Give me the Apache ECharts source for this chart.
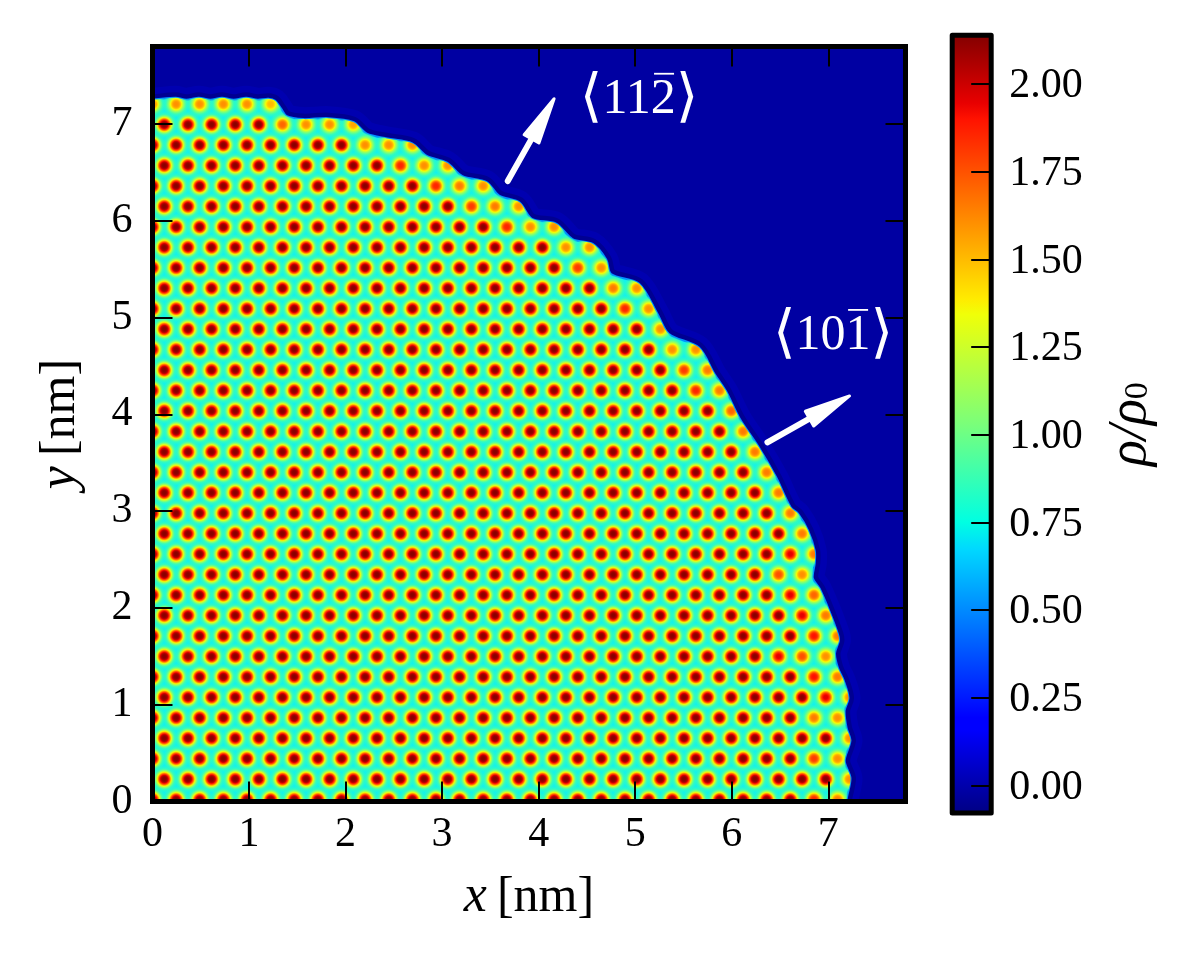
<!DOCTYPE html>
<html><head><meta charset="utf-8">
<style>html,body{margin:0;padding:0;background:#fff}#c{width:1197px;height:957px}</style>
<script src="https://cdn.jsdelivr.net/npm/echarts@6/dist/echarts.min.js"></script>
</head><body><div id="c"></div>
<script>
const xTicks=[0,1,2,3,4,5,6,7];
const yTicks=[0,1,2,3,4,5,6,7];
const barTicks=[0,0.25,0.5,0.75,1,1.25,1.5,1.75,2];
const barRange=[-0.079,2.139];
const jetStops=[[0,'#000080'],[0.11,'#0000ff'],[0.125,'#0000ff'],[0.34,'#00d8ff'],[0.375,'#00ffe2'],[0.5,'#7aff7a'],[0.64,'#f0ff08'],[0.66,'#ffeb00'],[0.89,'#ff1200'],[0.91,'#e80000'],[1,'#800000']];
const rowY=[0.02,0.231,0.443,0.654,0.865,1.077,1.288,1.499,1.71,1.922,2.133,2.344,2.556,2.767,2.978,3.19,3.401,3.612,3.823,4.035,4.246,4.457,4.669,4.88,5.091,5.303,5.514,5.725,5.936,6.148,6.359,6.57,6.782,6.993,7.204];
const evenSites=[0,.245,.489,.734,.979,1.224,1.468,1.713,1.958,2.202,2.447,2.692,2.936,3.181,3.426,3.671,3.915,4.16,4.405,4.649,4.894,5.139,5.383,5.628,5.873,6.118,6.362,6.607,6.852,7.096];
const oddSites=[.122,.367,.612,.857,1.101,1.346,1.591,1.835,2.08,2.325,2.569,2.814,3.059,3.304,3.548,3.793,4.038,4.282,4.527,4.772,5.016,5.261,5.506,5.75,5.995,6.24,6.485,6.729,6.974,7.219];
const rowCounts=[30,30,30,30,30,30,30,29,30,29,29,28,29,28,28,27,27,26,26,25,25,24,24,22,22,21,20,19,18,16,15,13,12,9,6];
const bulkRho=2.12;
const edgeRho=[[1.65,1.85],[1.6],[1.6,1.8],[1.6],[1.6,1.65],[1.6,1.95],[1.65,1.9],[1.6,1.75,1.95],[1.65,1.9],[1.65,1.95],[1.7,1.95],[1.6,1.75],[1.65,1.95],[1.65],[1.65],[1.65],[1.65],[1.65],[1.65],[1.7],[1.65,1.85],[1.65,1.8],[1.6,1.6],[1.6],[1.6,1.85],[1.6,1.65],[1.6,1.8],[1.6,1.6],[1.6,1.6,1.85],[1.6,1.65,1.8],[1.6,1.65,1.85],[1.6,1.6,1.85],[1.6,1.6,1.6],[1.55,1.6,1.6,1.7],[1.5,1.6,1.6,1.6,1.6,1.6]];
const crystalEdge=[[-0.1,7.25],[0,7.25],[.24,7.27],[.35,7.25],[.48,7.27],[.6,7.25],[.72,7.27],[.84,7.25],[.97,7.27],[1.09,7.25],[1.2,7.26],[1.27,7.24],[1.33,7.16],[1.39,7.08],[1.56,7.05],[1.82,7.06],[2.08,7.02],[2.22,6.9],[2.43,6.85],[2.69,6.8],[2.84,6.67],[3.05,6.6],[3.21,6.46],[3.46,6.4],[3.59,6.26],[3.8,6.19],[3.93,6.02],[4.18,5.97],[4.35,5.81],[4.56,5.76],[4.7,5.6],[4.75,5.45],[5.04,5.35],[5.23,5.04],[5.35,4.83],[5.66,4.69],[5.82,4.42],[5.94,4.24],[6.08,3.96],[6.28,3.66],[6.46,3.35],[6.61,3.04],[6.69,2.97],[6.79,2.8],[6.86,2.59],[6.86,2.46],[6.84,2.31],[6.91,2.2],[7.01,1.97],[7.1,1.73],[7.11,1.66],[7.07,1.53],[7.1,1.38],[7.16,1.25],[7.21,1.07],[7.17,.94],[7.19,.76],[7.23,.63],[7.17,.42],[7.23,.24],[7.19,.02],[7.19,-0.1],[-0.1,-0.1]];
const arrowTails=[[3.68,6.41],[6.37,3.71]];
const arrowTips=[[4.16,7.26],[7.22,4.19]];
const dirLabels=[{digits:'112',at:[5.04,7.25]},{digits:'101',at:[7.05,4.81]}];

const atoms=[];
rowY.forEach((y,k)=>{
  const sites=(k%2?oddSites:evenSites).slice(0,rowCounts[k]);
  const edge=edgeRho[k];
  sites.forEach((x,i)=>{
    const fromEnd=sites.length-1-i;
    atoms.push([x,y,fromEnd<edge.length?edge[fromEnd]:bulkRho]);
  });
});
function hex(c){return [parseInt(c.slice(1,3),16),parseInt(c.slice(3,5),16),parseInt(c.slice(5,7),16)];}
function jet(v){
  const f=Math.max(0,Math.min(1,(v-barRange[0])/(barRange[1]-barRange[0])));
  for(let i=1;i<jetStops.length;i++){
    if(f<=jetStops[i][0]){
      const a=jetStops[i-1],b=jetStops[i],t=(f-a[0])/(b[0]-a[0]);
      const p=hex(a[1]),q=hex(b[1]);
      return p.map((u,j)=>Math.round(u+(q[j]-u)*t));
    }
  }
  return hex(jetStops[jetStops.length-1][1]);
}
const atomR=13.5,haloRho=0.88;
const gradCache={};
function atomFill(rho){
  if(gradCache[rho])return gradCache[rho];
  const stops=[];
  for(let i=0;i<=24;i++){
    const t=i/24,r=t*atomR;
    const v=haloRho+(rho-haloRho)*Math.exp(-Math.pow(r/7.1,3.4));
    const c=jet(v);
    const al=r<9?1:Math.max(0,(atomR-r)/(atomR-9));
    stops.push({offset:t,color:`rgba(${c[0]},${c[1]},${c[2]},${al.toFixed(3)})`});
  }
  return gradCache[rho]=new echarts.graphic.RadialGradient(0.5,0.5,0.5,stops);
}
const FONT='"Liberation Serif","DejaVu Serif",serif';
const frame={color:'#000',width:5,cap:'square'};
const tick=()=>({show:true,inside:true,length:20,lineStyle:{color:'#000',width:2},customValues:xTicks});
const nameRich={i:{fontFamily:FONT,fontStyle:'italic',fontSize:52,color:'#000'},r:{fontFamily:FONT,fontSize:50,color:'#000',padding:[0,0,0,10]}};
const chart=echarts.init(document.getElementById('c'),null,{renderer:'canvas'});
chart.setOption({
  animation:false,backgroundColor:'#fff',
  grid:[
    {left:152.5,top:46.5,width:753,height:755,show:true,backgroundColor:'#0000a2',borderWidth:0},
    {left:952.2,top:35.2,width:39,height:777.8,show:false}
  ],
  xAxis:[
    {gridIndex:0,type:'value',min:0,max:7.8,position:'bottom',z:5,splitLine:{show:false},axisLine:{show:true,onZero:false,lineStyle:frame},axisTick:tick(),
     axisLabel:{customValues:xTicks,fontFamily:FONT,fontSize:42,color:'#000',margin:12,formatter:v=>String(v)},
     name:'{i|x}{r|[nm]}',nameLocation:'middle',nameGap:70,nameTextStyle:{rich:nameRich}},
    {gridIndex:0,type:'value',min:0,max:7.8,position:'top',z:5,splitLine:{show:false},axisLine:{show:true,onZero:false,lineStyle:frame},axisTick:tick(),axisLabel:{show:false}},
    {gridIndex:1,type:'value',min:0,max:1,show:false}
  ],
  yAxis:[
    {gridIndex:0,type:'value',min:0,max:7.8,position:'left',z:5,splitLine:{show:false},axisLine:{show:true,onZero:false,lineStyle:frame},axisTick:tick(),
     axisLabel:{customValues:yTicks,fontFamily:FONT,fontSize:42,color:'#000',margin:20,formatter:v=>String(v)},
     name:'{i|y}{r|[nm]}',nameLocation:'middle',nameGap:66,nameTextStyle:{rich:nameRich}},
    {gridIndex:0,type:'value',min:0,max:7.8,position:'right',z:5,splitLine:{show:false},axisLine:{show:true,onZero:false,lineStyle:frame},axisTick:tick(),axisLabel:{show:false}},
    {gridIndex:1,type:'value',min:barRange[0],max:barRange[1],position:'right',z:5,splitLine:{show:false},axisLine:{show:false,onZero:false},
     axisTick:{show:true,inside:true,length:20,lineStyle:{color:'#000',width:2},customValues:barTicks},
     axisLabel:{customValues:barTicks,fontFamily:FONT,fontSize:42,color:'#000',margin:18,formatter:v=>'{v|'+v.toFixed(2)+'}',rich:{v:{fontFamily:FONT,fontSize:42,color:'#000',padding:[5,0,0,0]}}},
     name:'{i|\u03C1/\u03C1}{s|0}',nameLocation:'middle',nameGap:113,nameRotate:90,nameTextStyle:{rich:{i:{fontFamily:FONT,fontStyle:'italic',fontSize:54,color:'#000'},s:{fontFamily:FONT,fontSize:34,color:'#000',padding:[14,0,0,0]}}}}
  ],
  series:[
    {type:'custom',xAxisIndex:0,yAxisIndex:0,coordinateSystem:'cartesian2d',clip:true,z:2,silent:true,data:[0],
     renderItem(p,api){
       const pts=crystalEdge.map(c=>api.coord(c));
       return {type:'group',children:[
         {type:'polygon',shape:{points:pts,smooth:0.3},style:{fill:'none',stroke:'#0000b0',lineWidth:24,lineJoin:'round'}},
         {type:'polygon',shape:{points:pts,smooth:0.3},style:{fill:'none',stroke:'#000092',lineWidth:11,lineJoin:'round'}},
         {type:'polygon',shape:{points:pts,smooth:0.3},style:{fill:'#14f2ec',stroke:'#0090ff',lineWidth:2,lineJoin:'round'}}
       ]};
     }},
    {type:'custom',xAxisIndex:0,yAxisIndex:0,clip:true,z:3,silent:true,data:[0],
     renderItem(p,api){
       const pts=crystalEdge.map(c=>api.coord(c));
       return {type:'group',clipPath:{type:'polygon',shape:{points:pts,smooth:0.3}},
         children:atoms.map(a=>{
           const c=api.coord(a);
           return {type:'circle',shape:{cx:c[0],cy:c[1],r:atomR},style:{fill:atomFill(a[2])}};
         })};
     }},
    {type:'custom',xAxisIndex:0,yAxisIndex:0,clip:false,z:7,silent:true,data:arrowTails.map((t,i)=>i),
     renderItem(p,api){
       const i=api.value(0),a=api.coord(arrowTails[i]),b=api.coord(arrowTips[i]);
       const dx=b[0]-a[0],dy=b[1]-a[1],len=Math.hypot(dx,dy),ux=dx/len,uy=dy/len;
       const mx=b[0]-ux*46,my=b[1]-uy*46;
       return {type:'group',children:[
         {type:'line',shape:{x1:a[0],y1:a[1],x2:mx,y2:my},style:{stroke:'#fff',lineWidth:6,lineCap:'round'}},
         {type:'polygon',shape:{points:[b,[mx-uy*8.5,my+ux*8.5],[mx+uy*8.5,my-ux*8.5]]},style:{fill:'#fff',stroke:'#fff',lineWidth:3,lineJoin:'round'}}
       ]};
     }},
    {type:'custom',xAxisIndex:0,yAxisIndex:0,clip:false,z:7,silent:true,data:dirLabels.map((t,i)=>i),
     renderItem(p,api){
       const d=dirLabels[api.value(0)],c=api.coord(d.at);
       return {type:'group',children:[
         {type:'text',x:c[0],y:c[1],style:{text:'{b|\u27E8}{d|'+d.digits+'}{b|\u27E9}',fill:'#fff',textAlign:'center',textVerticalAlign:'middle',
           rich:{b:{fontFamily:'"DejaVu Serif"',fontSize:58,fill:'#fff',color:'#fff'},d:{fontFamily:FONT,fontSize:50,fill:'#fff',color:'#fff'}}}},
         {type:'line',shape:{x1:c[0]+15,y1:c[1]-26,x2:c[0]+35,y2:c[1]-26},style:{stroke:'#fff',lineWidth:1.8}}
       ]};
     }},
    {type:'custom',xAxisIndex:2,yAxisIndex:2,clip:false,z:2,silent:true,data:[0],
     renderItem(p,api){
       const a=api.coord([0,barRange[1]]),b=api.coord([1,barRange[0]]);
       return {type:'rect',shape:{x:a[0],y:a[1],width:b[0]-a[0],height:b[1]-a[1]},
         style:{fill:new echarts.graphic.LinearGradient(0,1,0,0,jetStops.map(s=>({offset:s[0],color:s[1]}))),stroke:'#000',lineWidth:5,lineJoin:'round'}};
     }}
  ]
});
</script></body></html>
